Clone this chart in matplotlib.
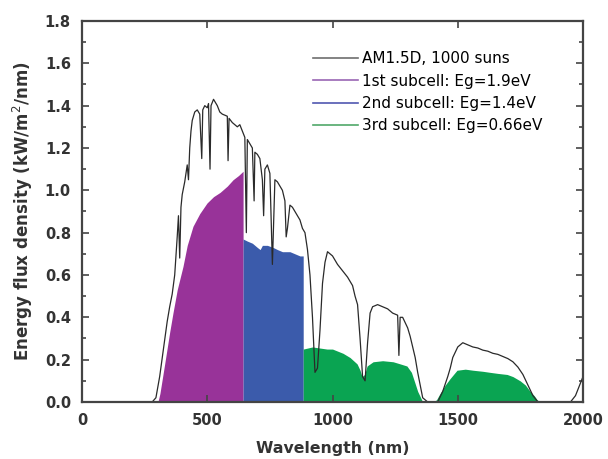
import numpy as np
import matplotlib
matplotlib.use('Agg')
import matplotlib.pyplot as plt
from matplotlib.lines import Line2D
from matplotlib.ticker import MultipleLocator, FormatStrFormatter

plt.rcParams['font.family'] = ['DejaVu Sans']

# AM1.5D spectrum (1000 suns)
am_wl = [0, 280, 295, 310, 325, 340, 350, 360, 370, 380, 385, 390, 395, 400,
         410, 420, 425, 430, 435, 440, 450, 460, 470, 478, 482, 490, 500, 505, 511,
         515, 525, 530, 540, 550, 560, 580, 583, 587, 600, 610, 620, 630, 640, 650,
         656, 660, 670, 680, 687, 690, 700, 710, 720, 725, 730, 740, 750, 760, 765,
         770, 780, 790, 800, 810, 815, 820, 830, 840, 850, 860, 870, 880, 890, 900,
         910, 920, 930, 940, 950, 960, 970, 980, 1000, 1020, 1040, 1060, 1080, 1090, 1100,
         1110, 1120, 1130, 1140, 1150, 1160, 1180, 1200, 1220, 1240, 1260, 1265, 1270, 1280, 1300,
         1310, 1320, 1330, 1340, 1350, 1360, 1380, 1420, 1440, 1460, 1470, 1480, 1500, 1520, 1540,
         1560, 1580, 1600, 1620, 1640, 1660, 1680, 1700, 1720, 1740, 1760, 1780, 1800, 1820, 1950,
         1970, 1990, 2000]
am_flux = [0, 0, 0.02, 0.12, 0.25, 0.38, 0.45, 0.51, 0.60, 0.78, 0.88, 0.68, 0.92, 0.98,
           1.04, 1.12, 1.05, 1.20, 1.28, 1.33, 1.37, 1.38, 1.36, 1.15, 1.38, 1.40, 1.39, 1.41, 1.10,
           1.40, 1.43, 1.42, 1.40, 1.37, 1.36, 1.35, 1.14, 1.34, 1.32, 1.31, 1.30, 1.31, 1.28, 1.25,
           0.80, 1.24, 1.22, 1.20, 0.95, 1.18, 1.17, 1.15, 1.05, 0.88, 1.10, 1.12, 1.08, 0.65, 0.85,
           1.05, 1.04, 1.02, 1.00, 0.95, 0.78, 0.82, 0.93, 0.92, 0.90, 0.88, 0.86, 0.82, 0.80, 0.72,
           0.60, 0.40, 0.14, 0.16, 0.34, 0.56, 0.66, 0.71, 0.69, 0.65, 0.62, 0.59, 0.55, 0.50, 0.46,
           0.30, 0.12, 0.10, 0.28, 0.42, 0.45, 0.46, 0.45, 0.44, 0.42, 0.41, 0.22, 0.40, 0.40, 0.35,
           0.31, 0.26, 0.21, 0.14, 0.08, 0.02, 0.0, 0.0, 0.05, 0.12, 0.16, 0.21, 0.26, 0.28, 0.27,
           0.26, 0.255, 0.245, 0.24, 0.23, 0.225, 0.215, 0.205, 0.19, 0.165, 0.13, 0.08, 0.03, 0.0, 0.0,
           0.03, 0.09, 0.12]

# 1st subcell (Eg=1.9eV)
sub1_wl = [303, 311, 330, 350, 363, 380, 403, 420, 443, 470, 499, 525, 551, 580, 603, 625, 643]
sub1_flux = [0, 0.04, 0.18, 0.33, 0.42, 0.53, 0.64, 0.74, 0.83, 0.89, 0.94, 0.97, 0.99, 1.02, 1.05, 1.07, 1.09]

# 2nd subcell (Eg=1.4eV)
sub2_wl = [643, 660, 680, 700, 711, 720, 740, 763, 780, 800, 830, 850, 870, 883]
sub2_flux = [0.77, 0.76, 0.75, 0.73, 0.72, 0.74, 0.74, 0.73, 0.72, 0.71, 0.71, 0.70, 0.69, 0.69]

# 3rd subcell (Eg=0.66eV)
sub3_wl = [883, 920, 978, 1000, 1042, 1070, 1098, 1110, 1118, 1128, 1138, 1162, 1200, 1242, 1270,
           1297, 1315, 1329, 1340, 1352, 1360, 1400, 1415, 1429, 1450, 1469, 1497, 1530, 1561, 1600,
           1629, 1660, 1697, 1720, 1749, 1770, 1789, 1805, 1817, 1830]
sub3_flux = [0.25, 0.26, 0.25, 0.25, 0.23, 0.21, 0.18, 0.15, 0.12, 0.13, 0.17, 0.19, 0.195, 0.19, 0.18,
             0.17, 0.14, 0.09, 0.05, 0.02, 0.0, 0.0, 0.01, 0.04, 0.08, 0.11, 0.15, 0.155, 0.15, 0.145,
             0.14, 0.135, 0.13, 0.12, 0.10, 0.08, 0.05, 0.03, 0.01, 0.0]

labels = ['AM1.5D, 1000 suns', '1st subcell: Eg=1.9eV', '2nd subcell: Eg=1.4eV', '3rd subcell: Eg=0.66eV']
fill_colors = ['#983399', '#3b5bab', '#0aa452']
legend_colors = ['#6e6e6e', '#9a66b4', '#5058b0', '#50a86a']

fig = plt.figure(figsize=(6.08, 4.59), dpi=100)
ax = fig.add_axes([0.1349, 0.1242, 0.8240, 0.8301])

ax.fill_between(sub1_wl, sub1_flux, 0, color=fill_colors[0], lw=0)
ax.fill_between(sub2_wl, sub2_flux, 0, color=fill_colors[1], lw=0)
ax.fill_between(sub3_wl, sub3_flux, 0, color=fill_colors[2], lw=0)
ax.plot(am_wl, am_flux, color='#2a2a2a', lw=0.9)

handles = [Line2D([], [], color=c, lw=1.2) for c in legend_colors]
ax.legend(handles, labels, loc='upper left', bbox_to_anchor=(0.461, 0.92), frameon=False,
          fontsize=11, handlelength=2.95, handletextpad=0.26, labelspacing=0.48,
          borderpad=0, borderaxespad=0)

ax.set_xlim(0, 2000)
ax.set_ylim(0, 1.8)
ax.xaxis.set_major_locator(MultipleLocator(500))
ax.yaxis.set_major_locator(MultipleLocator(0.2))
ax.yaxis.set_minor_locator(MultipleLocator(0.1))
ax.yaxis.set_major_formatter(FormatStrFormatter('%.1f'))
ax.tick_params(which='both', direction='in', top=True, right=True, color='#444444', width=1.2)
ax.tick_params(which='major', length=5)
ax.tick_params(which='minor', length=3)
ax.tick_params(axis='y', pad=8)
ax.tick_params(axis='x', pad=8)
for lab in ax.get_xticklabels() + ax.get_yticklabels():
    lab.set_fontsize(10.5)
    lab.set_fontweight('bold')
    lab.set_color('#333333')
for sp in ax.spines.values():
    sp.set_linewidth(1.6)
    sp.set_color('#444444')

ax.set_xlabel('Wavelength (nm)', fontsize=11.3, fontweight='bold', color='#333333', labelpad=9)
ax.set_ylabel('Energy flux density (kW/m$^2$/nm)', fontsize=12, fontweight='bold', color='#333333', labelpad=7)

fig.savefig('out.png', dpi=100)
